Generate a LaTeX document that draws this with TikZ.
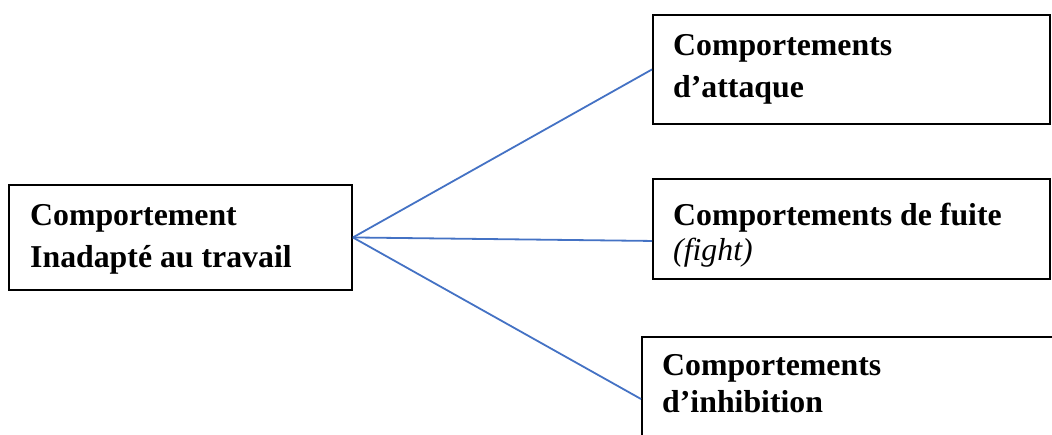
\documentclass[tikz,border=0pt]{standalone}
\usepackage{fontspec}
\setmainfont{Liberation Serif}
\definecolor{linkblue}{HTML}{4472C4}
\begin{document}
\begin{tikzpicture}[x=1pt,y=-1pt,
  box/.style={draw=black,line width=1.9pt,rectangle,inner sep=0pt,anchor=north west},
  lbl/.style={anchor=base west,inner sep=0pt,font=\fontsize{31.8}{38}\selectfont\bfseries},
  ilbl/.style={anchor=base west,inner sep=0pt,font=\fontsize{31.8}{38}\selectfont\itshape},
  conn/.style={draw=linkblue,line width=1.8pt}]
\useasboundingbox (0,0) rectangle (1052,434);
\clip (0,0) rectangle (1052,434);
% boxes
\node[box,minimum width=343pt,minimum height=105pt] (b1) at (8,184) {};
\node[box,minimum width=397pt,minimum height=109pt] (b2) at (652,14) {};
\node[box,minimum width=397pt,minimum height=100pt] (b3) at (652,178) {};
\node[box,minimum width=440pt,minimum height=140pt] (b4) at (641,336) {};
% texts
\node[lbl] (t1a) at (30,225) {Comportement};
\node[lbl] (t1b) at (30,267) {Inadapté au travail};
\node[lbl] (t2a) at (673,55) {Comportements};
\node[lbl] (t2b) at (673,97) {d’attaque};
\node[lbl] (t3a) at (673,225) {Comportements de fuite};
\node[ilbl] (t3b) at (673,260) {(fight)};
\node[lbl] (t4a) at (662,375) {Comportements};
\node[lbl] (t4b) at (662,412) {d’inhibition};
% connectors
\coordinate (e3) at ([yshift=-12pt]b3.west);
\coordinate (e4) at ([yshift=-63pt]b4.north west);
\draw[conn] (b1.east) -- (b2.west);
\draw[conn] (b1.east) -- (e3);
\draw[conn] (b1.east) -- (e4);
\end{tikzpicture}
\end{document}
